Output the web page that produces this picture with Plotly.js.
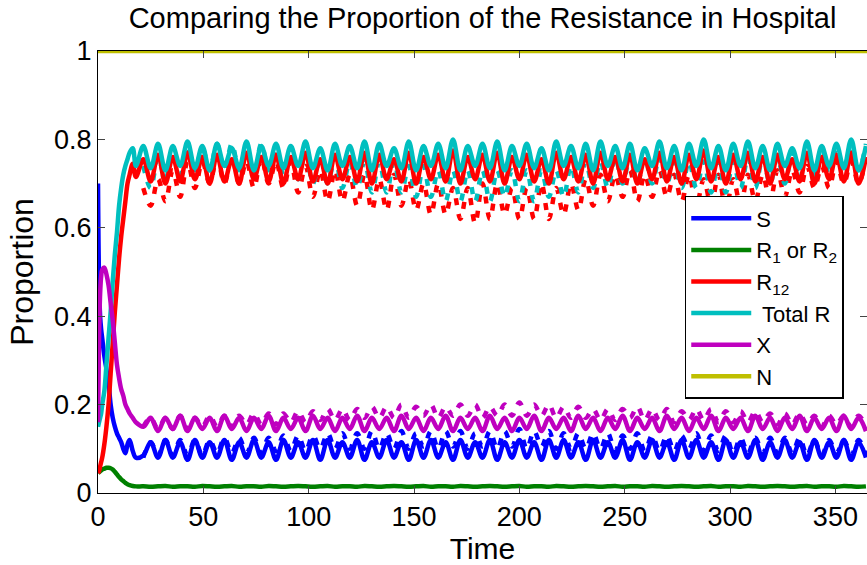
<!DOCTYPE html>
<html>
<head>
<meta charset="utf-8">
<script src="https://cdn.plot.ly/plotly-3.0.1.min.js"></script>
<style>html,body{margin:0;padding:0;background:#fff;}#chart{width:867px;height:565px;}</style>
</head>
<body>
<div id="chart"></div>
<script>
// Time (days)
const time = [0,0.5,1,1.5,2,3,4,5,6,7,8,9,10,11,12,13,14,15,16.5,18,
21.5,25,28.5,32,35.5,39,42.5,46,49.5,53,56.5,60,63.5,67,70.5,74,77.5,81,84.5,88,91.5,95,98.5,102,105.5,109,112.5,116,119.5,123,126.5,130,133.5,137,140.5,144,147.5,151,154.5,158,161.5,165,168.5,172,175.5,179,182.5,186,189.5,193,196.5,200,203.5,207,210.5,214,217.5,221,224.5,228,231.5,235,238.5,242,245.5,249,252.5,256,259.5,263,266.5,270,273.5,277,280.5,284,287.5,291,294.5,298,301.5,305,308.5,312,315.5,319,322.5,326,329.5,333,336.5,340,343.5,347,350.5,354,357.5,361,364.5];

const S = [0.70,0.48,0.40,0.37,0.35,0.31,0.28,0.25,0.20,0.17,0.15,0.135,0.125,0.115,0.10,0.09,0.11,0.12,0.095,0.08,
0.085,0.115,0.08,0.12,0.08,0.115,0.075,0.12,0.08,0.115,
0.08,0.12,0.075,0.115,0.08,0.12,0.08,0.115,0.075,0.12,
0.08,0.115,0.08,0.12,0.075,0.12,0.08,0.115,0.08,0.12,
0.075,0.115,0.08,0.12,0.08,0.115,0.075,0.12,0.08,0.12,
0.08,0.115,0.075,0.12,0.08,0.115,0.08,0.12,0.075,0.115,
0.08,0.12,0.08,0.115,0.075,0.12,0.08,0.12,0.08,0.115,
0.075,0.12,0.08,0.115,0.08,0.12,0.075,0.115,0.08,0.12,
0.08,0.115,0.075,0.12,0.08,0.12,0.08,0.115,0.075,0.12,
0.08,0.115,0.08,0.12,0.075,0.115,0.08,0.12,0.08,0.115,
0.075,0.12,0.08,0.115,0.08,0.12,0.075,0.115,0.08];

const R1 = [0.045,0.047,0.049,0.051,0.053,0.055,0.057,0.057,0.056,0.053,0.048,0.042,0.036,0.031,0.027,0.023,0.02,0.018,0.016,0.015,
0.015,0.014,0.015,0.016,0.014,0.015,0.015,0.014,0.016,0.015,
0.014,0.015,0.016,0.014,0.015,0.015,0.014,0.016,0.015,0.014,
0.015,0.016,0.015,0.014,0.015,0.016,0.014,0.015,0.015,0.014,
0.016,0.015,0.014,0.015,0.016,0.015,0.014,0.015,0.016,0.014,
0.015,0.015,0.014,0.016,0.015,0.014,0.015,0.016,0.015,0.014,
0.015,0.016,0.014,0.015,0.015,0.014,0.016,0.015,0.014,0.015,
0.016,0.015,0.014,0.015,0.016,0.014,0.015,0.015,0.014,0.016,
0.015,0.014,0.015,0.016,0.015,0.014,0.015,0.016,0.014,0.015,
0.015,0.014,0.016,0.015,0.014,0.015,0.016,0.015,0.014,0.015,
0.016,0.014,0.015,0.015,0.014,0.016,0.015,0.014,0.015];

const R12 = [0.045,0.05,0.06,0.07,0.08,0.11,0.15,0.20,0.27,0.34,0.41,0.47,0.53,0.58,0.62,0.66,0.70,0.72,0.745,0.715,
0.755,0.705,0.765,0.70,0.76,0.705,0.77,0.71,0.76,0.70,
0.765,0.705,0.755,0.70,0.77,0.71,0.76,0.705,0.765,0.70,
0.76,0.71,0.77,0.705,0.755,0.70,0.765,0.71,0.76,0.705,
0.77,0.70,0.765,0.71,0.755,0.705,0.77,0.70,0.76,0.71,
0.765,0.705,0.775,0.70,0.76,0.71,0.765,0.705,0.77,0.70,
0.76,0.71,0.765,0.705,0.755,0.70,0.77,0.71,0.76,0.705,
0.765,0.70,0.77,0.71,0.76,0.705,0.765,0.70,0.755,0.71,
0.77,0.705,0.76,0.70,0.765,0.71,0.775,0.705,0.76,0.70,
0.765,0.71,0.77,0.705,0.76,0.70,0.765,0.71,0.755,0.705,
0.77,0.70,0.76,0.71,0.765,0.705,0.77,0.70,0.76];

const totalR = [0.15,0.16,0.17,0.18,0.20,0.23,0.29,0.35,0.41,0.48,0.54,0.59,0.65,0.69,0.72,0.74,0.755,0.77,0.78,0.74,
0.785,0.735,0.79,0.73,0.785,0.74,0.795,0.735,0.785,0.73,
0.79,0.74,0.78,0.735,0.795,0.73,0.785,0.74,0.79,0.735,
0.785,0.74,0.795,0.735,0.78,0.73,0.79,0.74,0.785,0.735,
0.795,0.73,0.79,0.74,0.78,0.735,0.795,0.73,0.785,0.74,
0.79,0.735,0.80,0.73,0.785,0.74,0.79,0.735,0.795,0.73,
0.785,0.74,0.79,0.735,0.78,0.73,0.795,0.74,0.785,0.735,
0.79,0.73,0.795,0.74,0.785,0.735,0.79,0.73,0.78,0.74,
0.795,0.735,0.785,0.73,0.79,0.74,0.80,0.735,0.785,0.73,
0.79,0.74,0.795,0.735,0.785,0.73,0.79,0.74,0.78,0.735,
0.795,0.73,0.785,0.74,0.79,0.735,0.80,0.73,0.785];

const X = [0.16,0.35,0.45,0.49,0.505,0.51,0.495,0.47,0.43,0.39,0.34,0.29,0.26,0.235,0.22,0.20,0.19,0.18,0.17,0.16,
0.15,0.17,0.14,0.17,0.145,0.175,0.14,0.17,0.145,0.17,
0.14,0.175,0.145,0.17,0.14,0.17,0.145,0.175,0.14,0.17,
0.145,0.17,0.14,0.175,0.145,0.17,0.14,0.17,0.145,0.175,
0.14,0.17,0.145,0.17,0.14,0.175,0.145,0.17,0.14,0.17,
0.145,0.175,0.14,0.17,0.145,0.17,0.14,0.175,0.145,0.17,
0.14,0.17,0.145,0.175,0.14,0.17,0.145,0.17,0.14,0.175,
0.145,0.17,0.14,0.17,0.145,0.175,0.14,0.17,0.145,0.17,
0.14,0.175,0.145,0.17,0.14,0.17,0.145,0.175,0.14,0.17,
0.145,0.17,0.14,0.175,0.145,0.17,0.14,0.17,0.145,0.175,
0.14,0.17,0.145,0.17,0.14,0.175,0.145,0.17,0.14];

const nTime = [0, 365];
const N = [1, 1];

// Second (perturbed) run, drawn dashed, from t = 21.5 onward
const runTime = time.slice(20);
const R12run = [0.69,0.65,0.71,0.66,0.73,0.67,
0.75,0.69,0.75,0.70,0.76,0.70,
0.76,0.70,0.75,0.69,0.76,0.70,0.75,0.69,0.75,0.68,
0.74,0.67,0.73,0.66,0.73,0.66,0.72,0.65,0.72,0.64,
0.71,0.64,0.72,0.65,0.71,0.64,0.70,0.63,0.70,0.63,
0.69,0.62,0.69,0.61,0.70,0.62,0.70,0.63,0.69,0.62,
0.69,0.62,0.70,0.62,0.69,0.63,0.70,0.64,0.71,0.65,
0.72,0.66,0.72,0.67,0.73,0.66,0.72,0.67,0.73,0.67,
0.72,0.66,0.72,0.65,0.71,0.65,0.72,0.64,0.71,0.65,
0.72,0.66,0.72,0.66,0.73,0.67,0.73,0.68,0.74,0.69,
0.74,0.69,0.75,0.70,0.75,0.70,0.76];
const totalRrun = [0.74,0.69,0.76,0.71,0.77,0.72,
0.78,0.73,0.78,0.73,0.79,0.73,
0.79,0.73,0.78,0.72,0.79,0.73,0.78,0.72,0.78,0.71,
0.77,0.70,0.76,0.70,0.76,0.69,0.75,0.69,0.75,0.68,
0.75,0.68,0.75,0.68,0.74,0.67,0.74,0.67,0.73,0.66,
0.73,0.66,0.73,0.66,0.73,0.66,0.73,0.67,0.73,0.66,
0.73,0.66,0.73,0.67,0.73,0.67,0.74,0.68,0.75,0.69,
0.75,0.69,0.76,0.70,0.76,0.70,0.76,0.70,0.76,0.70,
0.75,0.69,0.75,0.69,0.75,0.68,0.75,0.68,0.75,0.69,
0.76,0.69,0.76,0.70,0.76,0.70,0.77,0.71,0.77,0.72,
0.78,0.72,0.78,0.73,0.79,0.73,0.79];
const Xrun = [0.15,0.17,0.145,0.17,0.145,0.175,
0.145,0.17,0.15,0.175,0.15,0.175,
0.15,0.175,0.155,0.18,0.155,0.18,0.155,0.18,0.16,0.185,
0.16,0.185,0.165,0.19,0.165,0.19,0.165,0.19,0.17,0.195,
0.17,0.195,0.17,0.20,0.17,0.195,0.175,0.20,0.17,0.195,
0.175,0.20,0.175,0.20,0.17,0.195,0.175,0.20,0.175,0.205,
0.175,0.20,0.175,0.20,0.17,0.195,0.17,0.195,0.17,0.19,
0.165,0.19,0.165,0.19,0.17,0.195,0.165,0.19,0.165,0.19,
0.16,0.185,0.165,0.19,0.165,0.19,0.16,0.185,0.16,0.185,
0.16,0.185,0.16,0.18,0.155,0.18,0.155,0.18,0.155,0.175,
0.15,0.175,0.155,0.175,0.15,0.175,0.15];
const Srun = [0.08,0.115,0.085,0.12,0.085,0.12,
0.085,0.12,0.085,0.12,0.09,0.125,
0.09,0.125,0.09,0.125,0.09,0.125,0.095,0.13,0.095,0.13,
0.095,0.13,0.10,0.135,0.10,0.135,0.10,0.135,0.10,0.14,
0.10,0.135,0.10,0.14,0.10,0.135,0.105,0.14,0.10,0.14,
0.105,0.14,0.10,0.135,0.105,0.14,0.10,0.14,0.105,0.145,
0.10,0.14,0.105,0.14,0.10,0.135,0.10,0.135,0.10,0.135,
0.10,0.135,0.095,0.13,0.10,0.135,0.095,0.13,0.095,0.13,
0.095,0.13,0.10,0.135,0.095,0.13,0.095,0.13,0.09,0.125,
0.09,0.125,0.09,0.125,0.09,0.125,0.09,0.125,0.085,0.12,
0.085,0.12,0.09,0.12,0.085,0.12,0.085];

const colS = '#0000ff', colR1 = '#008000', colR12 = '#ff0000', colT = '#00bfbf', colX = '#bf00bf', colN = '#bfbf00';
const W = 4.5;

function dashed(x, y, c) {
  return {x: x, y: y, type: 'scatter', mode: 'lines', showlegend: false, hoverinfo: 'skip',
    line: {color: c, width: W, dash: '7px,9px', shape: 'spline', smoothing: 1}};
}
function solid(x, y, c, name) {
  return {x: x, y: y, type: 'scatter', mode: 'lines', name: name,
    line: {color: c, width: W, shape: 'spline', smoothing: 1}};
}

const traces = [
  dashed(runTime, Srun, colS),
  dashed(runTime, Xrun, colX),
  dashed(runTime, R12run, colR12),
  dashed(runTime, totalRrun, colT),
  solid(time, S, colS, 'S'),
  solid(time, R1, colR1, 'R<sub>1</sub> or R<sub>2</sub>'),
  solid(time, R12, colR12, 'R<sub>12</sub>'),
  solid(time, totalR, colT, ' Total R'),
  solid(time, X, colX, 'X'),
  {x: nTime, y: N, type: 'scatter', mode: 'lines', name: 'N', line: {color: colN, width: W}}
];

const F = 'Liberation Sans, Arial, Helvetica, sans-serif';
const layout = {
  width: 867, height: 565,
  margin: {l: 98, r: 0, t: 51, b: 72},
  paper_bgcolor: '#fff', plot_bgcolor: '#fff',
  font: {family: F, color: '#000', size: 27},
  title: {text: 'Comparing the Proportion of the Resistance in Hospital', font: {family: F, size: 29, color: '#000'},
    x: 0.5, xref: 'paper', xanchor: 'center', y: 0.968, yref: 'container', yanchor: 'middle'},
  xaxis: {range: [0, 365], tickvals: [0, 50, 100, 150, 200, 250, 300, 350], ticks: 'inside', ticklen: 7,
    showline: true, linecolor: '#000', linewidth: 1, mirror: 'ticks', showgrid: false, zeroline: false,
    tickfont: {family: F, size: 27, color: '#000'},
    title: {text: 'Time', font: {family: F, size: 30, color: '#000'}, standoff: 2}},
  yaxis: {range: [0, 1], tickvals: [0, 0.2, 0.4, 0.6, 0.8, 1], ticks: 'inside', ticklen: 7,
    showline: true, linecolor: '#000', linewidth: 1, mirror: 'ticks', showgrid: false, zeroline: false,
    tickfont: {family: F, size: 27, color: '#000'},
    title: {text: 'Proportion', font: {family: F, size: 32, color: '#000'}, standoff: 10}},
  legend: {x: 0.763, y: 0.672, xanchor: 'left', yanchor: 'top', bgcolor: '#fff', bordercolor: '#000', borderwidth: 1.5,
    font: {family: F, size: 22, color: '#000'}, itemwidth: 60, tracegroupgap: 0},
  showlegend: true
};

Plotly.newPlot('chart', traces, layout, {displayModeBar: false, staticPlot: true});
</script>
</body>
</html>
